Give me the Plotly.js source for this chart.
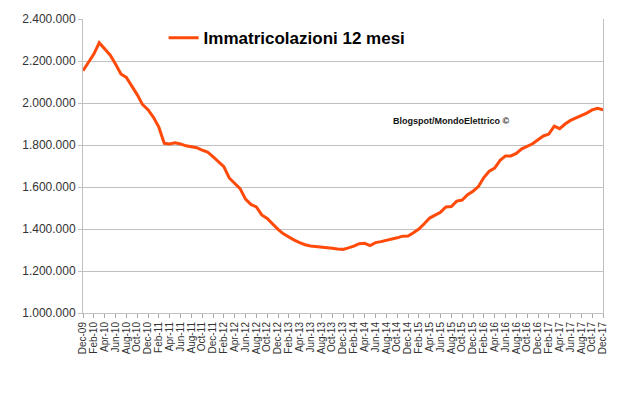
<!DOCTYPE html>
<html>
<head>
<meta charset="utf-8">
<script src="https://cdn.plot.ly/plotly-3.0.1.min.js"></script>
<style>html,body{margin:0;padding:0;background:#fff;}#chart{width:640px;height:401px;}</style>
</head>
<body>
<div id="chart"></div>
<script>
const months = ["Jan","Feb","Mar","Apr","May","Jun","Jul","Aug","Sep","Oct","Nov","Dec"];
// Categories Dec-09 .. Dec-17
const categories = ["Dec-09",
 "Jan-10","Feb-10","Mar-10","Apr-10","May-10","Jun-10","Jul-10","Aug-10","Sep-10","Oct-10","Nov-10","Dec-10",
 "Jan-11","Feb-11","Mar-11","Apr-11","May-11","Jun-11","Jul-11","Aug-11","Sep-11","Oct-11","Nov-11","Dec-11",
 "Jan-12","Feb-12","Mar-12","Apr-12","May-12","Jun-12","Jul-12","Aug-12","Sep-12","Oct-12","Nov-12","Dec-12",
 "Jan-13","Feb-13","Mar-13","Apr-13","May-13","Jun-13","Jul-13","Aug-13","Sep-13","Oct-13","Nov-13","Dec-13",
 "Jan-14","Feb-14","Mar-14","Apr-14","May-14","Jun-14","Jul-14","Aug-14","Sep-14","Oct-14","Nov-14","Dec-14",
 "Jan-15","Feb-15","Mar-15","Apr-15","May-15","Jun-15","Jul-15","Aug-15","Sep-15","Oct-15","Nov-15","Dec-15",
 "Jan-16","Feb-16","Mar-16","Apr-16","May-16","Jun-16","Jul-16","Aug-16","Sep-16","Oct-16","Nov-16","Dec-16",
 "Jan-17","Feb-17","Mar-17","Apr-17","May-17","Jun-17","Jul-17","Aug-17","Sep-17","Oct-17","Nov-17","Dec-17"];
// Registrations, rolling 12 months
const immatricolazioni = [2154000,
 2197000,2233000,2287000,2256000,2229000,2186000,2138000,2122000,2081000,2040000,1992000,1968000,
 1932000,1885000,1808000,1805000,1810000,1805000,1796000,1793000,1787000,1776000,1766000,1745000,
 1722000,1697000,1643000,1618000,1592000,1542000,1517000,1505000,1467000,1450000,1422000,1398000,
 1377000,1360000,1347000,1335000,1325000,1319000,1317000,1315000,1312000,1308000,1305000,1303000,
 1310000,1318000,1330000,1332000,1321000,1335000,1340000,1345000,1350000,1358000,1366000,1367000,
 1382000,1400000,1425000,1452000,1466000,1480000,1505000,1507000,1533000,1538000,1563000,1580000,
 1602000,1645000,1675000,1690000,1727000,1748000,1748000,1760000,1782000,1793000,1806000,1825000,
 1843000,1852000,1890000,1878000,1900000,1917000,1928000,1942000,1952000,1967000,1975000,1967000];
const tickLabels = categories.filter((c, i) => i % 2 === 0);
const yTicks = [1000000,1200000,1400000,1600000,1800000,2000000,2200000,2400000];

const trace = {
  x: categories, y: immatricolazioni, type: 'scatter', mode: 'lines',
  name: 'Immatricolazioni 12 mesi',
  line: {color: '#ff4a0a', width: 3}
};
const layout = {
  width: 640, height: 401,
  margin: {l: 83, r: 37, t: 19, b: 88},
  paper_bgcolor: '#fff', plot_bgcolor: '#fff',
  separators: ',.',
  font: {family: 'Liberation Sans, Arial, sans-serif', color: '#333'},
  showlegend: true,
  legend: {x: 0.155, y: 0.935, xanchor: 'left', yanchor: 'middle', bgcolor: 'rgba(0,0,0,0)',
           font: {size: 17, color: '#000', family: 'Liberation Sans, Arial, sans-serif', weight: 'bold'}},
  xaxis: {
    type: 'category', range: [0, categories.length - 1],
    tickmode: 'array', tickvals: tickLabels, ticktext: tickLabels,
    tickangle: -90, tickfont: {size: 10, color: '#333'},
    ticks: 'outside', ticklen: 4, tickcolor: '#aaa',
    showgrid: false, showline: true, linecolor: '#c0c0c0', linewidth: 1, zeroline: false
  },
  yaxis: {
    range: [1000000, 2400000], tickvals: yTicks, tickformat: ',d',
    tickfont: {size: 12, color: '#333'},
    ticks: 'outside', ticklen: 4, tickcolor: '#c0c0c0',
    showgrid: true, gridcolor: '#c0c0c0', gridwidth: 1,
    showline: true, linecolor: '#c0c0c0', linewidth: 1, mirror: true, zeroline: false
  },
  annotations: [{
    xref: 'paper', yref: 'paper', x: 0.708, y: 0.653, xanchor: 'center', yanchor: 'middle',
    text: '<b>Blogspot/MondoElettrico ©</b>', showarrow: false,
    font: {size: 9, color: '#111', family: 'Liberation Sans, Arial, sans-serif'}
  }]
};
Plotly.newPlot('chart', [trace], layout, {displayModeBar: false, staticPlot: true});
</script>
</body>
</html>
